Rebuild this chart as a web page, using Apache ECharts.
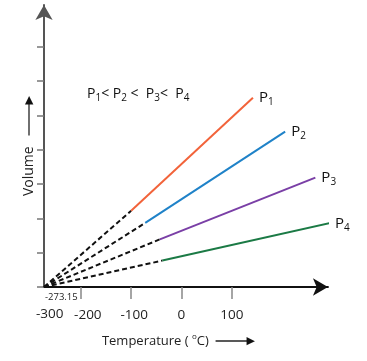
<!DOCTYPE html>
<html>
<head>
<meta charset="utf-8">
<script src="https://cdn.jsdelivr.net/npm/echarts@6/dist/echarts.min.js"></script>
<style>
html,body{margin:0;padding:0;background:#fff;}
#c{width:367px;height:361px;}
</style>
</head>
<body>
<div id="c"></div>
<script>
// ---- data ----
const absoluteZero = -273.15;
const seriesNames = ['1', '2', '3', '4'];          // subscripts of P
const colors = ['#f2633a', '#1f82c8', '#7a3fa6', '#1b7a45'];
const tStart = [-100, -72, -43, -38];               // °C where solid part begins
const vStart = [2.22, 1.87, 1.39, 0.77];
const tEnd = [142, 206, 266, 294];                  // °C where line ends
const vEnd = [5.52, 4.53, 3.19, 1.86];
const xTicks = [-200, -100, 0, 100];
const yTicks = [0, 1, 2, 3, 4, 5, 6, 7];
const xMin = absoluteZero, xMax = 291;
const yMin = 0, yMax = 8.22;

const FONT = 'Open Sans';
const chart = echarts.init(document.getElementById('c'), null, {renderer: 'canvas'});

const series = [];
for (let i = 0; i < seriesNames.length; i++) {
  series.push({
    type: 'line', name: 'P' + seriesNames[i] + ' extrapolated', clip: false,
    data: [[absoluteZero, 0], [tStart[i], vStart[i]]],
    showSymbol: false, silent: true,
    lineStyle: {color: '#111', width: 2, type: [5, 3]}
  });
  series.push({
    type: 'line', name: 'P' + seriesNames[i], clip: false,
    data: [[tStart[i], vStart[i]], [tEnd[i], vEnd[i]]],
    showSymbol: false, silent: true,
    lineStyle: {color: colors[i], width: 2},
    endLabel: {
      show: true, distance: 6,
      formatter: 'P{s|' + seriesNames[i] + '}',
      color: '#111', fontFamily: FONT, fontSize: 15,
      rich: {s: {fontSize: 10, color: '#111', fontFamily: FONT, padding: [9, 0, 0, 0]}}
    }
  });
}

const arrowRich = {
  ln: {width: 33, height: 1.3, backgroundColor: '#222'},
  hd: {fontSize: 11, color: '#111', fontFamily: 'DejaVu Sans', padding: [0, 0, 0, -2]},
  sup: {fontSize: 8, color: '#222', fontFamily: FONT, padding: [0, 0, 8, 0]}
};

// small label nudges as in the reference drawing
const labelShift = {'-200': 14, '-100': 6};

chart.setOption({
  animation: false,
  grid: {left: 44, right: 367 - 44 - (xMax - xMin) * 0.5033, top: 287 - yMax * 34.3, bottom: 74},
  xAxis: {
    type: 'value', min: xMin, max: xMax,
    axisLine: {show: true, onZero: false, lineStyle: {color: '#111', width: 2},
      symbol: ['none', 'arrow'], symbolSize: [13, 15]},
    axisTick: {show: true, length: 12, customValues: xTicks, lineStyle: {color: '#888', width: 1.5}},
    axisLabel: {
      show: true, customValues: xTicks, margin: 21, color: '#222', fontFamily: FONT, fontSize: 13.5,
      formatter: function (v) {
        const k = String(v);
        return labelShift[k] ? '{p' + labelShift[k] + '|' + k + '}' : k;
      },
      rich: {
        p14: {fontFamily: FONT, fontSize: 13.5, color: '#222', padding: [0, 0, 0, 14]},
        p6: {fontFamily: FONT, fontSize: 13.5, color: '#222', padding: [0, 0, 0, 6]}
      }
    },
    splitLine: {show: false},
    name: 'Temperature ( {sup|o}C)  {ln|}{hd|▶}',
    nameLocation: 'middle', nameGap: 46,
    nameTextStyle: {color: '#222', fontFamily: FONT, fontSize: 13, rich: arrowRich, padding: [0, 15, 0, 0]}
  },
  yAxis: {
    type: 'value', min: yMin, max: yMax,
    axisLine: {show: true, onZero: false, lineStyle: {color: '#555', width: 2},
      symbol: ['none', 'arrow'], symbolSize: [13, 15]},
    axisTick: {show: true, length: 7, customValues: yTicks, lineStyle: {color: '#777', width: 1.5}},
    axisLabel: {show: false},
    splitLine: {show: false},
    name: 'Volume   {ln|}{hd|▶}',
    nameLocation: 'middle', nameRotate: 90, nameGap: 8,
    nameTextStyle: {color: '#222', fontFamily: FONT, fontSize: 14, rich: arrowRich}
  },
  series: series
});

// extra annotations positioned via the axis scale
const pZero = chart.convertToPixel({gridIndex: 0}, [absoluteZero, 0]);
chart.setOption({
  graphic: [
    {type: 'text', left: pZero[0] + 1, top: pZero[1] + 5,
      style: {text: '-273.15', fontFamily: FONT, fontSize: 9.5, fill: '#222'}},
    {type: 'text', left: pZero[0] - 8, top: pZero[1] + 20,
      style: {text: '-300', fontFamily: FONT, fontSize: 13.5, fill: '#222'}},
    {type: 'text', left: 87, top: 87,
      style: {
        text: 'P{s|1}< P{s|2} <  P{s|3}<  P{s|4}',
        fontFamily: FONT, fontSize: 14, fill: '#111',
        rich: {s: {fontSize: 10, fontFamily: FONT, fill: '#111', padding: [8, 0, 0, 0]}}
      }}
  ]
});
</script>
</body>
</html>
